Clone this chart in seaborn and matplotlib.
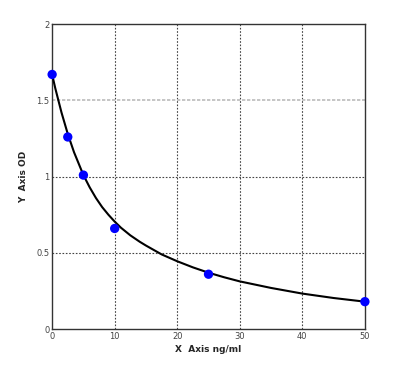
import matplotlib
matplotlib.use("Agg")
import matplotlib.pyplot as plt
import seaborn as sns
import pandas as pd

# measured standards
conc = [0, 2.5, 5, 10, 25, 50]
od = [1.67, 1.26, 1.01, 0.66, 0.36, 0.18]

# fitted curve
curve_x = [0, 0.5, 1, 1.5, 2, 2.5, 3, 3.5, 4, 4.5, 5, 6, 7, 8, 9, 10, 11, 12.5, 14, 15,
           17.5, 20, 22.5, 25, 27.5, 30, 35, 40, 45, 50]
curve_y = [1.67, 1.58, 1.50, 1.42, 1.35, 1.28, 1.22, 1.16, 1.11, 1.06, 1.01, 0.93, 0.86,
           0.80, 0.75, 0.705, 0.665, 0.615, 0.573, 0.548, 0.49, 0.445, 0.405, 0.37, 0.34,
           0.313, 0.27, 0.233, 0.204, 0.18]

x_ticks = [0, 10, 20, 30, 40, 50]
y_ticks = [0, 0.5, 1, 1.5, 2]
y_tick_labels = ["0", "0.5", "1", "1.5", "2"]

sns.set_style("white")
fig = plt.figure(figsize=(4.01, 3.77), dpi=100)
ax = fig.add_axes([0.130, 0.127, 0.780, 0.809])

pts = pd.DataFrame({"x": conc, "y": od})
crv = pd.DataFrame({"x": curve_x, "y": curve_y})

ax.set_xlim(0, 50)
ax.set_ylim(0, 2)
ax.set_xticks(x_ticks)
ax.set_yticks(y_ticks)
ax.set_yticklabels(y_tick_labels)

for xv in x_ticks[1:-1]:
    ax.axvline(xv, color="#444444", lw=0.8, ls=(0, (1.5, 1.5)), zorder=1)
for yv in [0.5, 1]:
    ax.axhline(yv, color="#444444", lw=0.8, ls=(0, (1.5, 1.5)), zorder=1)
ax.axhline(1.5, color="#bbbbbb", lw=1.2, ls=(0, (2, 1)), zorder=1)

sns.lineplot(data=crv, x="x", y="y", color="black", lw=1.5, ax=ax, zorder=3)
sns.scatterplot(data=pts, x="x", y="y", color="#0000ff", s=45, edgecolor="none",
                ax=ax, zorder=4, clip_on=False)

for s in ax.spines.values():
    s.set_color("#333333")
    s.set_linewidth(1.0)

ax.tick_params(axis="both", labelsize=6, colors="#444444", length=0, pad=2)
ax.set_xlabel("X  Axis ng/ml", fontsize=6.5, fontweight="bold", labelpad=3)
ax.set_ylabel("Y  Axis OD", fontsize=6.5, fontweight="bold", labelpad=6)

fig.savefig("out.png", dpi=100)
